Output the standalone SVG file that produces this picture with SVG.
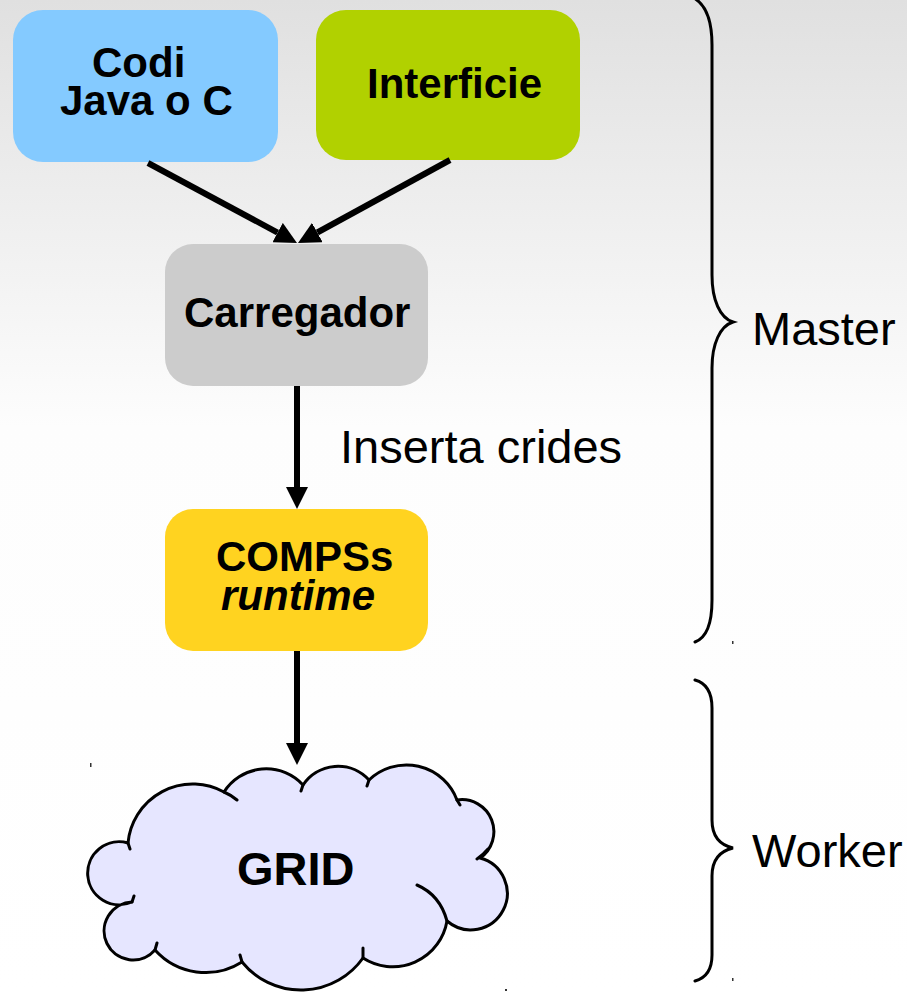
<svg xmlns="http://www.w3.org/2000/svg" width="907" height="992" viewBox="0 0 907 992">
<defs>
  <linearGradient id="bg" x1="0" y1="0" x2="0" y2="992" gradientUnits="userSpaceOnUse">
    <stop offset="0" stop-color="#e0e0e0"/>
    <stop offset="0.43" stop-color="#fdfdfd"/>
    <stop offset="1" stop-color="#ffffff"/>
  </linearGradient>
  <marker id="ah" markerWidth="22" markerHeight="22" refX="0" refY="11" orient="auto" markerUnits="userSpaceOnUse" viewBox="0 0 22 22">
    <path d="M0,0 L22,11 L0,22 Z" fill="#000"/>
  </marker>
  <style>
    .box-text { font-family: "Liberation Sans", Arial, sans-serif; font-weight: bold; font-size: 42px; fill: #000; }
    .label { font-family: "Liberation Sans", Arial, sans-serif; font-size: 47px; fill: #000; }
    .conn { stroke: #000; stroke-width: 6; fill: none; marker-end: url(#ah); }
    .brace { stroke: #000; stroke-width: 3; fill: none; stroke-linecap: round; }
    .cloud { fill: #e6e6ff; stroke: #000; stroke-width: 3; stroke-linejoin: round; }
    .cloud-inner { fill: none; stroke: #000; stroke-width: 3; stroke-linecap: round; }
  </style>
</defs>
<rect x="0" y="0" width="907" height="992" fill="url(#bg)"/>

<g id="codi">
  <rect x="13" y="10" width="265" height="152" rx="30" ry="30" fill="#84caff"/>
  <text class="box-text" x="92" y="77">Codi</text>
  <text class="box-text" x="60" y="115">Java o C</text>
</g>
<g id="interficie">
  <rect x="316" y="10" width="264" height="150" rx="30" ry="30" fill="#b1d100"/>
  <text class="box-text" x="367" y="98">Interficie</text>
</g>
<g id="carregador">
  <rect x="165" y="244" width="263" height="142" rx="28" ry="28" fill="#cccccc"/>
  <text class="box-text" x="184" y="327">Carregador</text>
</g>
<g id="compss">
  <rect x="165" y="509" width="263" height="142" rx="28" ry="28" fill="#ffd320"/>
  <text class="box-text" x="216" y="571">COMPSs</text>
  <text class="box-text" x="221" y="610" font-style="italic">runtime</text>
</g>
<g id="grid">
  <path class="cloud" d="M128,843 A65,65 0 0 1 224,792 A50,50 0 0 1 303,785 A42,42 0 0 1 369,780 A54,54 0 0 1 457,800 A32,32 0 0 1 480,858 A36.5,36.5 0 1 1 447,921 A55,55 0 0 1 363,958 A76,76 0 0 1 242,962 A68,68 0 0 1 155,950 A29,29 0 1 1 132,902 A31.5,31.5 0 1 1 128,843 Z"/>
  <path class="cloud-inner" d="M128,843 L130,849 M224,792 Q231,795 237,800 M303,785 L301,791 M369,780 L367,786 M457,800 L460,805 M488,849 Q483,855 477,859 M417,885 Q440,895 447,921 M363,958 L363,948 M242,962 L240,955 M155,950 L157,943 M132,902 L134,896"/>
  <text class="label" font-weight="bold" font-size="46" x="237" y="885">GRID</text>
</g>

<g id="connectors">
  <path class="conn" d="M148,163 L277.6,232.6"/>
  <path class="conn" d="M450,160 L317.3,232.5"/>
  <path class="conn" d="M297,386 L297,487"/>
  <path class="conn" d="M297,651 L297,743"/>
</g>

<g id="inserta-label">
  <text class="label" x="340" y="463" font-size="48">Inserta crides</text>
</g>

<g id="master-brace">
  <path class="brace" d="M694,-2 C706,5 712,20 712,45 L712,275 C712,300 720,318 733,322 C720,326 712,344 712,368 L712,600 C712,625 706,638 695,642"/>
  <text class="label" x="752" y="345">Master</text>
</g>
<g id="worker-brace">
  <path class="brace" d="M695,680 C706,683 712,692 712,708 L712,820 C712,836 720,845 733,848 C720,851 712,860 712,876 L712,955 C712,970 706,978 695,981"/>
  <text class="label" x="752" y="867">Worker</text>
</g>

<g id="marks" fill="#333">
  <rect x="90" y="763" width="1.5" height="4"/>
  <rect x="732" y="641" width="1.5" height="3"/>
  <rect x="732" y="978" width="1.5" height="3"/>
  <rect x="505" y="989" width="2" height="2"/>
</g>
</svg>
